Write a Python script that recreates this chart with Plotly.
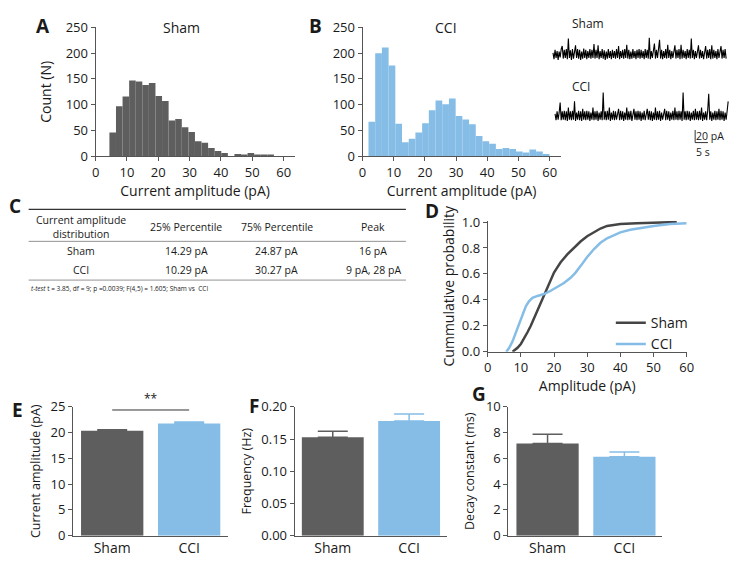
import plotly.graph_objects as go

W, H = 738, 565
def px(x): return x / W
def py(y): return 1 - y / H

DARK = "#5e5e5e"
BLUE = "#85bde6"
AXIS = "#555555"
TXT = "#1a1a1a"
FONT = "Open Sans"

# ---------------- data ----------------
# A: Sham amplitude histogram
sham_bin_start = 4.4
sham_bin_width = 2.1
sham_counts = [46, 97, 116, 147, 145, 138, 142, 117, 107, 69, 72, 56, 47, 29, 26,
               16, 10, 6, 0, 4, 3, 6, 3, 3, 3]
# B: CCI amplitude histogram
cci_bin_start = 1.9
cci_bin_width = 2.15
cci_counts = [67, 200, 211, 176, 63, 27, 34, 46, 64, 89, 108, 101, 112, 78, 71, 62,
              39, 29, 24, 14, 16, 14, 9, 7, 13, 9, 4]

# example traces (pA, sampled every trace_dt s)
trace_dt = 0.4
sham_trace = [3, -7, 8, -5, 6, -8, 5, -4, 9, 14,
              -6, 8, -5, 9, -7, 26, -5, 7, -8, 9,
              -6, 8, 15, -5, 9, -6, 8, -8, 5, -6,
              10, -5, 8, -7, 6, -5, 9, -6, 8, -5,
              17, -6, 8, -5, 15, -7, 6, -5, 9, -6,
              7, -8, 5, -6, 9, -5, 6, -7, 8, -5,
              6, -6, 9, -5, 14, -7, 6, -5, 8, -6,
              9, -5, 16, -6, 8, -7, 5, -6, 9, -5,
              6, -7, 8, -5, 9, -6, 8, -5, 6, -7,
              9, -5, 8, -6, 27, -7, 6, -5, 9, 18,
              -6, 8, -5, 9, 24, -6, 8, -7, 6, -5,
              9, -6, 16, -5, 8, -7, 6, -5, 9, 15,
              -6, 8, -5, 9, -7, 16, -6, 8, -5, 6,
              -7, 9, -5, 8, -6, 26, -5, 8, -7, 6,
              -5, 9, 15, -6, 8, -5, 6, -7, 9, 14,
              -6, 8, -5, 9, -7, 15, -6, 8, -5, 6,
              -7, 9, -5, 8, 14, -6, 8, -5, 9, -6]
cci_trace = [4, -6, 8, -5, 6, 22, -6, 8, -5, 9,
             -6, 8, -7, 14, -5, 8, -6, 9, -5, 24,
             -7, 6, -5, 9, -6, 8, -7, 12, -5, 8,
             -6, 9, -5, 8, -7, 6, -5, 14, -6, 8,
             -5, 9, -7, 6, -5, 8, -6, 38, -5, 8,
             -6, 9, -5, 14, -7, 6, -5, 9, -6, 8,
             -5, 8, 12, -6, 9, -5, 8, -7, 6, -5,
             14, -6, 8, -5, 9, -7, 6, 12, -5, 8,
             -6, 9, -5, 8, -7, 6, -5, 9, -6, 8,
             12, -5, 9, -6, 8, -7, 6, -5, 14, -6,
             8, -5, 9, -7, 6, -5, 8, 12, -6, 9,
             -5, 8, -7, 6, -5, 9, -6, 14, -5, 8,
             -6, 9, -5, 8, -7, 38, -5, 8, -6, 9,
             -5, 8, -7, 6, -5, 9, -6, 12, -5, 8,
             -6, 9, -5, 14, -7, 6, -5, 8, -6, 9,
             36, -5, 8, -7, 6, -5, 9, -6, 8, -5,
             12, -6, 9, -5, 8, -7, 6, -5, 9, 24]

# C: table
table_header = ["Current amplitude<br>distribution", "25% Percentile", "75% Percentile", "Peak"]
table_rows = [["Sham", "14.29 pA", "24.87 pA", "16 pA"],
              ["CCI", "10.29 pA", "30.27 pA", "9 pA, 28 pA"]]
table_note = "<i>t-test</i> t = 3.85, df = 9; p =0.0039; F(4,5) = 1.605; Sham vs  CCI"

# D: cumulative probability
sham_cdf_x = [7.5, 9, 10, 11, 12, 13, 14, 15, 16, 17, 18, 19, 20, 21, 22, 24, 26, 28,
              30, 32, 34, 36, 38, 40, 45, 50, 55, 57]
sham_cdf_y = [0, 0.03, 0.06, 0.1, 0.15, 0.2, 0.26, 0.32, 0.38, 0.44, 0.5, 0.56, 0.61,
              0.65, 0.69, 0.75, 0.8, 0.85, 0.89, 0.92, 0.95, 0.97, 0.98, 0.985, 0.99,
              0.993, 0.998, 1.0]
cci_cdf_x = [5.6, 6.5, 7.5, 8.5, 9.5, 10.5, 11.5, 12.5, 13.5, 15, 17, 19, 21, 23, 25,
             26.5, 28, 30, 32, 34, 36, 38, 40, 43, 46, 50, 55, 60]
cci_cdf_y = [0, 0.03, 0.08, 0.15, 0.22, 0.29, 0.35, 0.39, 0.415, 0.43, 0.445, 0.47,
             0.5, 0.53, 0.57, 0.61, 0.66, 0.73, 0.79, 0.84, 0.875, 0.9, 0.92, 0.94,
             0.955, 0.97, 0.985, 0.99]

# E-G: bar summaries
groups = ["Sham", "CCI"]
amp_mean = [20.35, 21.8]
amp_sem = [0.2, 0.25]
freq_mean = [0.153, 0.178]
freq_sem = [0.009, 0.011]
decay_mean = [7.15, 6.13]
decay_sem = [0.72, 0.37]

# ---------------- figure ----------------
fig = go.Figure()

def centers(start, width, n):
    return [start + width * (i + 0.5) for i in range(n)]

fig.add_trace(go.Bar(x=centers(sham_bin_start, sham_bin_width, len(sham_counts)), y=sham_counts,
                     width=sham_bin_width, marker=dict(color=DARK, line_width=0),
                     xaxis="x", yaxis="y", showlegend=False))
fig.add_trace(go.Bar(x=centers(cci_bin_start, cci_bin_width, len(cci_counts)), y=cci_counts,
                     width=cci_bin_width, marker=dict(color=BLUE, line_width=0),
                     xaxis="x2", yaxis="y2", showlegend=False))

# traces
SHAM_BASE, CCI_BASE = 158, 60
SHAM_T0, CCI_T0 = 0.5, 1.3
fig.add_trace(go.Scatter(x=[SHAM_T0 + i * trace_dt for i in range(len(sham_trace))],
                         y=[SHAM_BASE + v for v in sham_trace], mode="lines",
                         line=dict(color="black", width=1.1), xaxis="x3", yaxis="y3",
                         showlegend=False))
fig.add_trace(go.Scatter(x=[CCI_T0 + i * trace_dt for i in range(len(cci_trace))],
                         y=[CCI_BASE + v for v in cci_trace], mode="lines",
                         line=dict(color="black", width=1.1), xaxis="x3", yaxis="y3",
                         showlegend=False))

# D
fig.add_trace(go.Scatter(x=sham_cdf_x, y=sham_cdf_y, mode="lines", name="Sham",
                         line=dict(color="#454545", width=2.5), xaxis="x4", yaxis="y4"))
fig.add_trace(go.Scatter(x=cci_cdf_x, y=cci_cdf_y, mode="lines", name="CCI",
                         line=dict(color=BLUE, width=2.5), xaxis="x4", yaxis="y4"))

# E, F, G
colors = [DARK, BLUE]
for means, sems, ax in [(amp_mean, amp_sem, "5"), (freq_mean, freq_sem, "6"), (decay_mean, decay_sem, "7")]:
    for i in range(2):
        fig.add_trace(go.Bar(x=[i], y=[means[i]], width=0.81,
                             marker=dict(color=colors[i], line_width=0),
                             error_y=dict(type="data", array=[sems[i]], arrayminus=[0],
                                          symmetric=False, color=colors[i], thickness=1.5, width=15),
                             xaxis="x" + ax, yaxis="y" + ax, showlegend=False))

def axis(domain, rng, **kw):
    d = dict(domain=domain, range=rng, showline=True, linecolor=AXIS, linewidth=1,
             ticks="outside", ticklen=4, tickwidth=1, tickcolor=AXIS, showgrid=False,
             zeroline=False, tickfont=dict(size=13, color=TXT, family=FONT), fixedrange=True)
    d.update(kw)
    return d

title_font = dict(size=14, color=TXT, family=FONT)
bar_title_font = dict(size=12.5, color=TXT, family=FONT)
x_hist_ticks = dict(tickmode="array", tickvals=[0, 10, 20, 30, 40, 50, 60])
cat_font = dict(size=14, color=TXT, family=FONT)

fig.update_layout(
    autosize=True, margin=dict(l=0, r=0, t=0, b=0, pad=0),
    paper_bgcolor="white", plot_bgcolor="white",
    font=dict(family=FONT, color=TXT), barmode="overlay",
    xaxis=axis([px(93), px(295)], [0, 63.5], anchor="y", **x_hist_ticks,
               title=dict(text="Current amplitude (pA)", font=title_font, standoff=3)),
    yaxis=axis([py(152), py(19)], [0, 250], anchor="x", dtick=50,
               title=dict(text="Count (N)", font=title_font, standoff=10)),
    xaxis2=axis([px(364), px(565)], [0, 63.5], anchor="y2", **x_hist_ticks,
                title=dict(text="Current amplitude (pA)", font=title_font, standoff=3)),
    yaxis2=axis([py(152), py(19)], [0, 250], anchor="x2", dtick=50),
    xaxis3=dict(domain=[px(556), px(738)], range=[0, 70], visible=False, fixedrange=True),
    yaxis3=dict(domain=[py(150), py(20)], range=[0, 200], visible=False, fixedrange=True,
                anchor="x3"),
    xaxis4=axis([px(491), px(693)], [0, 60], anchor="y4", dtick=10,
                title=dict(text="Amplitude (pA)", font=title_font, standoff=4)),
    yaxis4=axis([py(354), py(218.7)], [0, 1.01], anchor="x4", tickmode="array",
                tickvals=[0, 0.2, 0.4, 0.6, 0.8, 1.0], tickformat=".1f",
                title=dict(text="Cummulative probability", font=title_font, standoff=3)),
    xaxis5=axis([px(70), px(227)], [-0.51, 1.5], anchor="y5", tickmode="array", tickvals=[0, 1],
                ticktext=groups, ticks="", tickfont=cat_font),
    yaxis5=axis([py(544), py(411)], [0, 25], anchor="x5", dtick=5,
                title=dict(text="Current amplitude (pA)", font=bar_title_font, standoff=7)),
    xaxis6=axis([px(295), px(450)], [-0.5, 1.5], anchor="y6", tickmode="array", tickvals=[0, 1],
                ticktext=groups, ticks="", tickfont=cat_font),
    yaxis6=axis([py(544), py(411)], [0, 0.2], anchor="x6", dtick=0.05, tickformat=".2f",
                title=dict(text="Frequency (Hz)", font=bar_title_font, standoff=6)),
    xaxis7=axis([px(512), px(668)], [-0.51, 1.49], anchor="y7", tickmode="array", tickvals=[0, 1],
                ticktext=groups, ticks="", tickfont=cat_font),
    yaxis7=axis([py(544), py(411)], [0, 10], anchor="x7", dtick=2,
                title=dict(text="Decay constant (ms)", font=bar_title_font, standoff=8)),
    legend=dict(x=px(616), y=py(308), xanchor="left", yanchor="top",
                font=dict(size=14, color=TXT, family=FONT), bgcolor="rgba(0,0,0,0)",
                itemwidth=30, tracegroupgap=0),
)

ann = []
def text(x, y, s, size=14, bold=False, xanchor="center", yanchor="middle", **kw):
    ann.append(dict(x=x, y=y, xref=kw.pop("xref", "paper"), yref=kw.pop("yref", "paper"),
                    text=("<b>%s</b>" % s) if bold else s, showarrow=False,
                    xanchor=xanchor, yanchor=yanchor,
                    font=dict(size=size, color=TXT, family=FONT), **kw))

# panel letters
for letter, (lx, ly) in {"A": (40, 18), "B": (316, 18), "C": (11, 203), "D": (434, 209),
                         "E": (14, 414), "F": (254, 410), "G": (482, 398)}.items():
    text(px(lx), py(ly), letter, size=19, bold=True)

# histogram titles
text(px(180), py(19), "Sham")
text(px(449), py(19), "CCI")

# trace labels
text(px(575), py(15), "Sham", size=12, xanchor="left")
text(px(575), py(80), "CCI", size=12, xanchor="left")

# scale bar
SB_T, SB_Y = 56.0, 18.5
shapes = [
    dict(type="line", xref="x3", yref="y3", x0=SB_T, x1=SB_T, y0=SB_Y, y1=SB_Y + 20,
         line=dict(color="#333", width=1)),
    dict(type="line", xref="x3", yref="y3", x0=SB_T, x1=SB_T + 5, y0=SB_Y, y1=SB_Y,
         line=dict(color="#333", width=1)),
]
text(SB_T - 0.4, SB_Y + 10, "20 pA", size=10.5, xanchor="left", xref="x3", yref="y3")
text(SB_T - 0.4, SB_Y - 0.5, "5 s", size=10.5, xanchor="left", yanchor="top", xref="x3", yref="y3")

# table C
col_x = [78, 185, 277, 375]
for cx, h in zip(col_x, table_header):
    text(px(cx), py(225), h, size=10.5)
for ry, row in zip([250, 270], table_rows):
    for cx, v in zip(col_x, row):
        text(px(cx), py(ry), v, size=10.5)
text(px(25), py(289), table_note, size=6.5, xanchor="left")
for ly, lw, lc in [(207, 1.3, "#333"), (240, 0.8, "#777"), (280, 0.8, "#777")]:
    shapes.append(dict(type="line", xref="paper", yref="paper", x0=px(25), x1=px(408),
                       y0=py(ly), y1=py(ly), line=dict(color=lc, width=lw)))

# significance in E
shapes.append(dict(type="line", xref="x5", yref="y5", x0=0, x1=1, y0=24.4, y1=24.4,
                   line=dict(color="#333", width=1)))
text(0.5, 24.5, "**", size=12, yanchor="bottom", xref="x5", yref="y5")

fig.update_layout(annotations=ann, shapes=shapes)
page_css = ("var s='margin:0;padding:0;overflow:hidden';"
            "document.documentElement.style.cssText=s;document.body.style.cssText=s;")
fig.write_html("out.html", config={"displayModeBar": False, "staticPlot": True, "responsive": True},
               default_width="100vw", default_height="100vh", post_script=page_css)
